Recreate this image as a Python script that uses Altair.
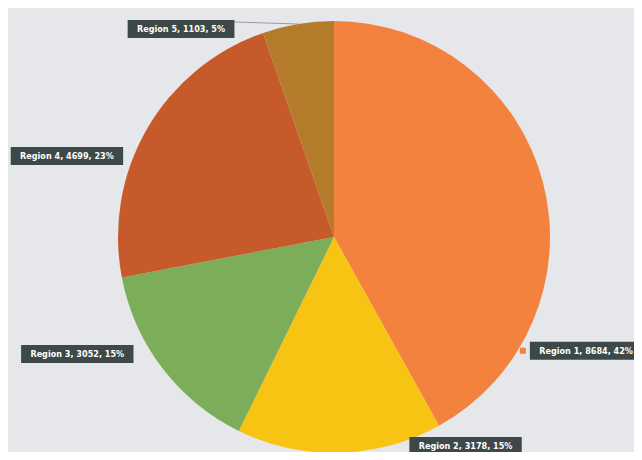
import altair as alt
import pandas as pd

regions = ["Region 1", "Region 2", "Region 3", "Region 4", "Region 5"]
values = [8684, 3178, 3052, 4699, 1103]
percents = ["42%", "15%", "15%", "23%", "5%"]
colors = ["#F3823F", "#F7C413", "#7CAD58", "#C75A2B", "#B47B2B"]

# label layout nudges (pixels) relative to the slice's mid-point on the rim
LABEL_NUDGE = {
    "Region 1": (43, 168),
    "Region 2": (126, -7),
    "Region 3": (-85, -14),
    "Region 4": (-80, 27),
    "Region 5": (-117, 5),
}

df = pd.DataFrame({
    "region": regions,
    "value": values,
    "pct": percents,
    "idx": list(range(len(regions))),
})
df["label"] = [f"{r}, {v}, {p}" for r, v, p in zip(regions, values, percents)]
df["nx"] = [LABEL_NUDGE[r][0] for r in regions]
df["ny"] = [LABEL_NUDGE[r][1] for r in regions]

CX, CY, R = 326, 229, 216

base = alt.Chart(df)

pie = base.mark_arc(outerRadius=R).encode(
    theta=alt.Theta("value:Q", stack=True),
    order=alt.Order("idx:O"),
    color=alt.Color("region:N", scale=alt.Scale(domain=regions, range=colors), legend=None),
    x=alt.value(CX),
    y=alt.value(CY),
)

lab = base.transform_window(
    cum="sum(value)", sort=[alt.SortField("idx")]
).transform_joinaggregate(
    total="sum(value)"
).transform_calculate(
    mid="(datum.cum - datum.value/2) / datum.total * 2 * PI",
).transform_calculate(
    ax=f"{CX} + {R} * sin(datum.mid)",
    ay=f"{CY} - {R} * cos(datum.mid)",
).transform_calculate(
    px="datum.ax + datum.nx",
    py="datum.ay + datum.ny",
    w="length(datum.label) * 5.6 + 6",
).transform_calculate(
    x1="datum.px - datum.w/2",
    x2="datum.px + datum.w/2",
    y1="datum.py - 9",
    y2="datum.py + 9",
    kx="datum.px - datum.w/2 - 7",
)

boxes = lab.mark_rect(color="#3D4948").encode(
    x=alt.X("x1:Q", scale=None),
    x2="x2:Q",
    y=alt.Y("y1:Q", scale=None),
    y2="y2:Q",
)

texts = lab.mark_text(
    color="white", font="DejaVu Sans Condensed", fontSize=9, fontWeight="bold",
    align="center", baseline="middle",
).encode(
    x=alt.X("px:Q", scale=None),
    y=alt.Y("py:Q", scale=None),
    text="label:N",
)

key = lab.transform_filter(alt.datum.region == "Region 1").mark_square(
    size=36, opacity=1
).encode(
    x=alt.X("kx:Q", scale=None),
    y=alt.Y("py:Q", scale=None),
    color=alt.Color("region:N", scale=alt.Scale(domain=regions, range=colors), legend=None),
)

leader = lab.transform_filter(alt.datum.region == "Region 5").transform_calculate(
    ly="datum.y1 + 2"
).mark_rule(color="#9A9A9A", strokeWidth=1).encode(
    x=alt.X("x2:Q", scale=None),
    x2="ax:Q",
    y=alt.Y("ly:Q", scale=None),
    y2="ay:Q",
)

chart = alt.layer(pie, leader, boxes, texts, key).properties(
    width=626, height=444, padding=0, autosize="none", background="white",
).configure_view(fill="#E6E7EA", stroke=None)

chart.save("out.html", embed_options={"renderer": "svg", "actions": False})
